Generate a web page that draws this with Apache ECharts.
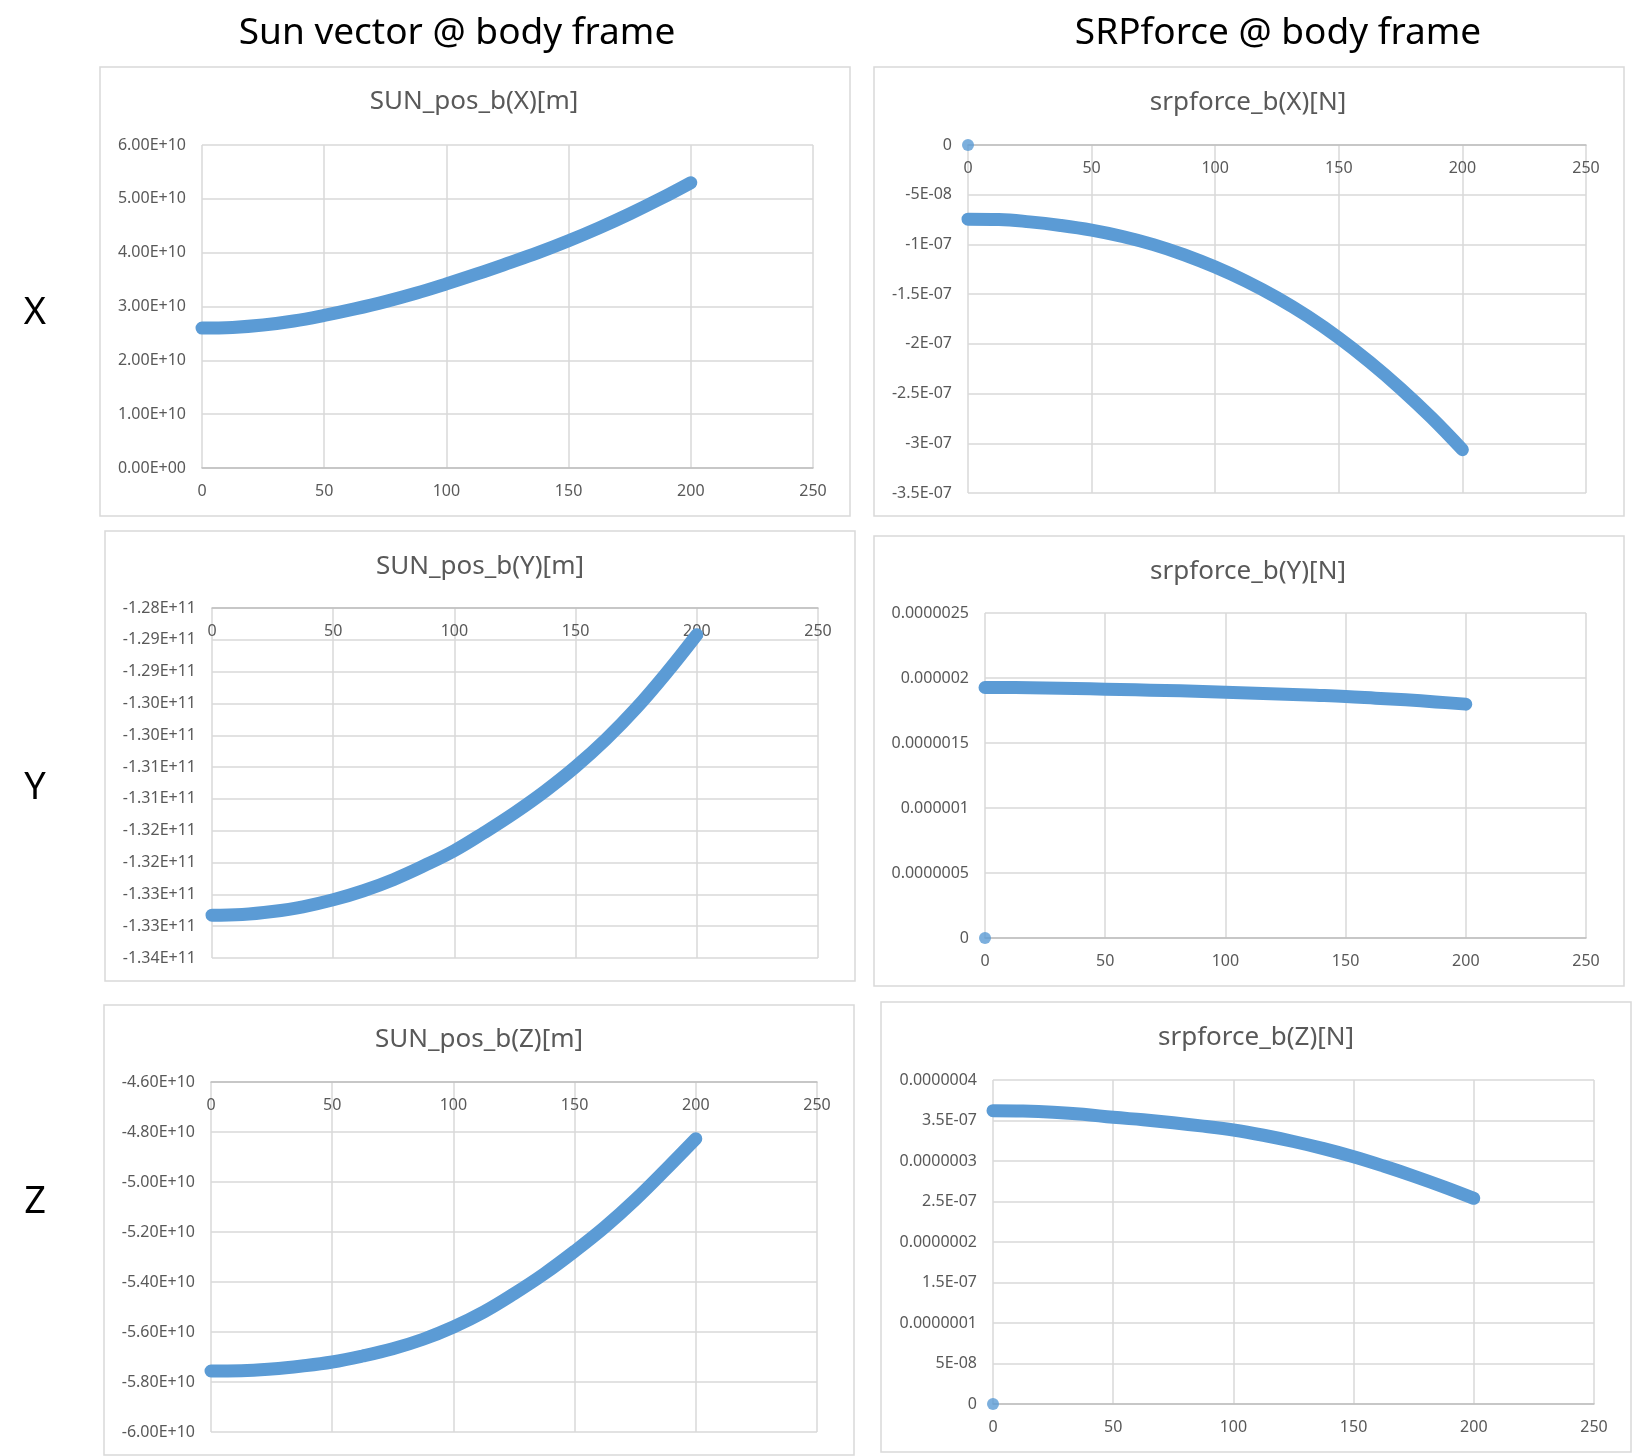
<!DOCTYPE html>
<html>
<head>
    <meta charset="utf-8">
    <title>Sun vector / SRPforce @ body frame</title>
    <style>
        body { margin: 0; background: #ffffff; }
    </style>
</head>
<body>

    <div id="main" style="width: 1632px; height: 1456px;"></div>
    <script src="https://cdn.jsdelivr.net/npm/echarts@6/dist/echarts.min.js"></script>
    <script type="text/javascript">
        // time samples [s]
        var t = [0, 12.5, 25, 37.5, 50, 62.5, 75, 87.5, 100, 112.5, 125, 137.5, 150, 162.5, 175, 187.5, 200];
        var xTicks = ['0', '50', '100', '150', '200', '250'];

        // Sun vector @ body frame [m]
        var sunX = [2.600e10, 2.612e10, 2.655e10, 2.730e10, 2.835e10, 2.955e10, 3.090e10, 3.245e10, 3.420e10,
            3.605e10, 3.800e10, 4.000e10, 4.220e10, 4.460e10, 4.720e10, 5.000e10, 5.300e10];
        var sunY = [-1.33327e11, -1.33316e11, -1.33269e11, -1.33195e11, -1.33085e11, -1.32943e11, -1.32765e11, -1.32550e11, -1.32313e11,
            -1.32024e11, -1.31715e11, -1.31375e11, -1.30995e11, -1.30565e11, -1.30075e11, -1.29520e11, -1.28920e11];
        var sunZ = [-5.756e10, -5.755e10, -5.748e10, -5.736e10, -5.720e10, -5.696e10, -5.667e10, -5.629e10, -5.580e10,
            -5.520e10, -5.447e10, -5.367e10, -5.277e10, -5.180e10, -5.071e10, -4.951e10, -4.827e10];

        // SRPforce @ body frame [N]
        var srpX = [-7.46e-8, -7.49e-8, -7.73e-8, -8.09e-8, -8.56e-8, -9.20e-8, -1.002e-7, -1.105e-7, -1.228e-7,
            -1.370e-7, -1.535e-7, -1.724e-7, -1.940e-7, -2.183e-7, -2.450e-7, -2.743e-7, -3.064e-7];
        var srpY = [1.927e-6, 1.926e-6, 1.923e-6, 1.919e-6, 1.914e-6, 1.909e-6, 1.904e-6, 1.898e-6, 1.891e-6,
            1.883e-6, 1.875e-6, 1.867e-6, 1.858e-6, 1.845e-6, 1.832e-6, 1.816e-6, 1.799e-6];
        var srpZ = [3.621e-7, 3.617e-7, 3.603e-7, 3.578e-7, 3.539e-7, 3.509e-7, 3.473e-7, 3.431e-7, 3.383e-7,
            3.318e-7, 3.241e-7, 3.153e-7, 3.053e-7, 2.938e-7, 2.814e-7, 2.681e-7, 2.539e-7];
        // first logged sample of srpforce is zero
        var srpFirst = [0, 0];

        // y tick labels, from axis min upwards (Excel formatting)
        var sunXTicks = ['0.00E+00', '1.00E+10', '2.00E+10', '3.00E+10', '4.00E+10', '5.00E+10', '6.00E+10'];
        var sunYTicks = ['-1.34E+11', '-1.33E+11', '-1.33E+11', '-1.32E+11', '-1.32E+11', '-1.31E+11',
            '-1.31E+11', '-1.30E+11', '-1.30E+11', '-1.29E+11', '-1.29E+11', '-1.28E+11'];
        var sunZTicks = ['-6.00E+10', '-5.80E+10', '-5.60E+10', '-5.40E+10', '-5.20E+10', '-5.00E+10', '-4.80E+10', '-4.60E+10'];
        var srpXTicks = ['-3.5E-07', '-3E-07', '-2.5E-07', '-2E-07', '-1.5E-07', '-1E-07', '-5E-08', '0'];
        var srpYTicks = ['0', '0.0000005', '0.000001', '0.0000015', '0.000002', '0.0000025'];
        var srpZTicks = ['0', '5E-08', '0.0000001', '1.5E-07', '0.0000002', '2.5E-07', '0.0000003', '3.5E-07', '0.0000004'];

        var blue = '#5B9BD5';
        var gridColor = '#D9D9D9';
        var textColor = '#595959';
        var font = 'Noto Sans';

        // layout of the six panels (pixel boxes measured on the reference)
        var panels = [
            { name: 'SUN_pos_b(X)[m]', values: sunX, ticks: sunXTicks, min: 0, interval: 1e10,
              box: [100, 67, 750, 449], grid: [202, 145, 611, 323], title: [474, 102], xPos: 'bottom', first: false },
            { name: 'srpforce_b(X)[N]', values: srpX, ticks: srpXTicks, min: -3.5e-7, interval: 5e-8,
              box: [874, 67, 750, 449], grid: [968, 145, 618, 348], title: [1248, 103], xPos: 'top', first: true },
            { name: 'SUN_pos_b(Y)[m]', values: sunY, ticks: sunYTicks, min: -1.34e11, interval: 5e8,
              box: [105, 531, 750, 450], grid: [212, 608, 606, 350], title: [480, 567], xPos: 'top', first: false },
            { name: 'srpforce_b(Y)[N]', values: srpY, ticks: srpYTicks, min: 0, interval: 5e-7,
              box: [874, 536, 750, 450], grid: [985, 613, 601, 325], title: [1248, 572], xPos: 'bottom', first: true },
            { name: 'SUN_pos_b(Z)[m]', values: sunZ, ticks: sunZTicks, min: -6e10, interval: 2e9,
              box: [104, 1005, 750, 450], grid: [211, 1082, 606, 350], title: [479, 1040], xPos: 'top', first: false },
            { name: 'srpforce_b(Z)[N]', values: srpZ, ticks: srpZTicks, min: 0, interval: 5e-8,
              box: [881, 1002, 750, 450], grid: [993, 1080, 601, 324], title: [1256, 1038], xPos: 'bottom', first: true }
        ];

        var graphic = [
            { type: 'text', x: 457, y: 33, silent: true,
              style: { text: 'Sun vector @ body frame', font: '37px "Noto Sans"', fill: '#000', textAlign: 'center', textVerticalAlign: 'middle' } },
            { type: 'text', x: 1278, y: 33, silent: true,
              style: { text: 'SRPforce @ body frame', font: '37px "Noto Sans"', fill: '#000', textAlign: 'center', textVerticalAlign: 'middle' } },
            { type: 'text', x: 35, y: 313, silent: true,
              style: { text: 'X', font: '38px "Noto Sans"', fill: '#000', textAlign: 'center', textVerticalAlign: 'middle' } },
            { type: 'text', x: 35, y: 788, silent: true,
              style: { text: 'Y', font: '38px "Noto Sans"', fill: '#000', textAlign: 'center', textVerticalAlign: 'middle' } },
            { type: 'text', x: 35, y: 1202, silent: true,
              style: { text: 'Z', font: '38px "Noto Sans"', fill: '#000', textAlign: 'center', textVerticalAlign: 'middle' } }
        ];
        panels.forEach(function (p) {
            graphic.push({ type: 'rect', silent: true, z: -1,
                shape: { x: p.box[0], y: p.box[1], width: p.box[2], height: p.box[3] },
                style: { fill: 'none', stroke: gridColor, lineWidth: 1.5 } });
            graphic.push({ type: 'text', x: p.title[0], y: p.title[1], silent: true,
                style: { text: p.name, font: '26px "Noto Sans"', fill: textColor, textAlign: 'center', textVerticalAlign: 'middle' } });
        });

        var series = [];
        panels.forEach(function (p, i) {
            series.push({
                type: 'line',
                xAxisIndex: i,
                yAxisIndex: i,
                data: t.map(function (x, k) { return [x, p.values[k]]; }),
                smooth: 0.4,
                symbol: 'none',
                clip: false,
                lineStyle: { color: blue, width: 13, cap: 'round', join: 'round' },
                z: 3
            });
            if (p.first) {
                series.push({
                    type: 'scatter',
                    xAxisIndex: i,
                    yAxisIndex: i,
                    data: [srpFirst],
                    symbolSize: 12,
                    clip: false,
                    itemStyle: { color: blue },
                    z: 3
                });
            }
        });

        var chartDom = document.getElementById('main');
        var myChart = echarts.init(chartDom);
        var option = {
            animation: false,
            backgroundColor: '#ffffff',
            textStyle: { fontFamily: font },
            graphic: graphic,
            grid: panels.map(function (p) {
                return { left: p.grid[0], top: p.grid[1], width: p.grid[2], height: p.grid[3],
                    containLabel: false, outerBoundsMode: 'none' };
            }),
            xAxis: panels.map(function (p, i) {
                return {
                    type: 'value',
                    gridIndex: i,
                    min: 0,
                    max: 250,
                    interval: 50,
                    position: p.xPos,
                    axisLine: { show: true, onZero: false, lineStyle: { color: '#BFBFBF', width: 1.5 } },
                    axisTick: { show: false },
                    axisLabel: {
                        inside: p.xPos === 'top',
                        margin: 15,
                        color: textColor,
                        fontSize: 16,
                        fontFamily: font,
                        showMinLabel: true,
                        showMaxLabel: true,
                        formatter: function (v) { return xTicks[Math.round(v / 50)]; }
                    },
                    splitLine: { show: true, lineStyle: { color: gridColor, width: 1.5 } }
                };
            }),
            yAxis: panels.map(function (p, i) {
                return {
                    type: 'value',
                    gridIndex: i,
                    min: p.min,
                    max: p.min + p.interval * (p.ticks.length - 1),
                    interval: p.interval,
                    axisLine: { show: false },
                    axisTick: { show: false },
                    axisLabel: {
                        margin: 16,
                        color: textColor,
                        fontSize: 16,
                        fontFamily: font,
                        showMinLabel: true,
                        showMaxLabel: true,
                        formatter: function (v) { return p.ticks[Math.round((v - p.min) / p.interval)]; }
                    },
                    splitLine: { show: true, lineStyle: { color: gridColor, width: 1.5 } }
                };
            }),
            series: series
        };

        option && myChart.setOption(option);
    </script>
</body>
</html>
